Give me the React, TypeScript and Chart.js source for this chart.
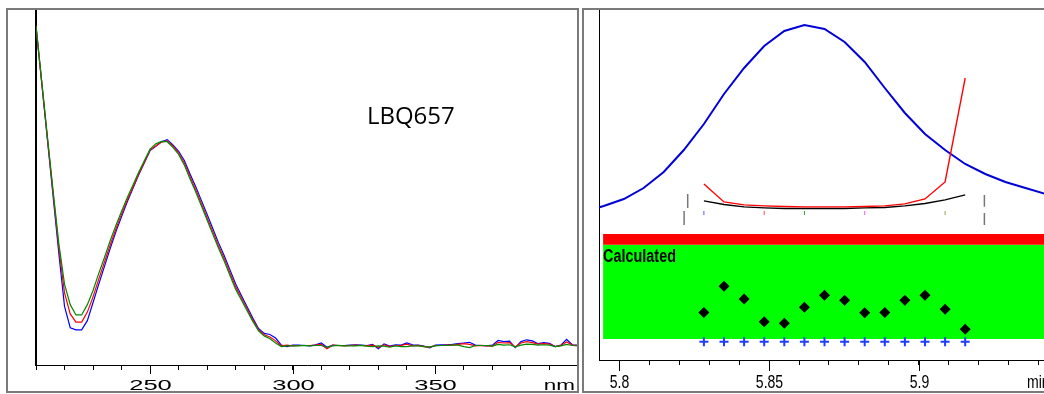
import React, { useEffect, useRef } from "react";
import { Chart, registerables } from "chart.js";

Chart.register(...registerables);

// ---------- Left panel: UV spectra ----------
const wavelengths = [
  210, 212, 214, 216, 218, 220, 222, 224, 226, 228, 230, 232, 234, 236, 238, 240, 242, 244, 246, 248,
  250, 252, 254, 256, 258, 260, 262, 264, 266, 268, 270, 272, 274, 276, 278, 280, 282, 284, 286, 288,
  290, 292, 294, 296, 298, 300, 302, 304, 306, 308, 310, 312, 314, 316, 318, 320, 322, 324, 326, 328,
  330, 332, 334, 336, 338, 340, 342, 344, 346, 348, 350, 352, 354, 356, 358, 360, 362, 364, 366, 368,
  370, 372, 374, 376, 378, 380, 382, 384, 386, 388, 390, 392, 394, 396, 398, 400,
];

const spectrumBlue = [
  95.5, 79.5, 63.5, 47.5, 31.5, 16.5, 10.5, 9.9, 9.9, 12.5, 17.6, 22.8, 27.8, 32.8, 37.5, 41.8, 46.0, 49.8, 53.6, 57.0,
  60.4, 61.6, 62.9, 63.5, 62.0, 60.2, 57.6, 53.8, 50.2, 46.3, 42.4, 38.4, 34.4, 30.8, 26.8, 22.8, 19.6, 16.4, 13.2, 10.3,
  8.9, 8.6, 7.6, 5.6, 5.2, 5.6,
  5.6, 5.5, 5.4, 5.7, 6.2, 5.0, 5.6, 5.5, 5.5, 5.6, 5.7, 5.6, 5.5, 5.8, 4.6, 5.9, 5.3, 5.7, 5.6, 6.2,
  5.7, 5.6, 5.3, 4.8, 5.6, 5.7, 5.7, 5.8, 6.0, 6.2, 6.4, 5.6, 5.5, 5.4, 5.6, 6.9, 6.6, 6.7, 4.9, 6.6,
  7.1, 6.8, 6.0, 6.3, 6.1, 5.2, 5.6, 7.2, 5.7, 5.5,
];

const spectrumRed = [
  95.5, 79.7, 63.9, 48.5, 33.0, 20.3, 14.4, 12.1, 12.1, 14.9, 19.2, 24.2, 29.0, 33.8, 38.3, 42.5, 46.5, 50.1, 53.8, 57.2,
  60.6, 61.7, 62.8, 63.1, 61.7, 59.7, 56.9, 53.0, 49.3, 45.4, 41.4, 37.5, 33.5, 29.9, 25.9, 22.0, 18.9, 15.8, 12.7, 9.9,
  8.5, 7.9, 6.8, 5.4, 5.6, 5.4,
  5.5, 5.5, 5.5, 5.6, 5.8, 4.6, 5.6, 5.5, 5.4, 5.5, 5.6, 5.5, 5.4, 5.6, 5.0, 5.7, 5.2, 5.5, 5.5, 5.9,
  5.4, 5.5, 5.2, 5.0, 5.5, 5.5, 5.6, 5.6, 5.8, 6.0, 5.8, 5.4, 5.5, 5.4, 5.3, 6.4, 6.2, 6.3, 5.1, 6.2,
  6.6, 6.3, 5.9, 6.0, 5.9, 5.2, 5.5, 6.5, 5.6, 5.5,
];

const spectrumGreen = [
  95.5, 79.9, 64.3, 49.0, 34.2, 22.8, 17.0, 14.1, 14.1, 17.0, 21.0, 25.8, 30.3, 35.0, 39.3, 43.3, 47.2, 50.7, 54.3, 57.6,
  60.8, 62.3, 63.0, 62.9, 61.3, 59.3, 56.3, 52.4, 48.7, 44.8, 40.8, 36.8, 32.9, 29.2, 25.2, 21.3, 18.3, 15.3, 12.3, 9.6,
  8.2, 7.4, 6.2, 5.2, 5.4, 5.4,
  5.4, 5.5, 5.4, 5.5, 5.5, 5.0, 5.4, 5.5, 5.4, 5.4, 5.4, 5.5, 5.3, 5.2, 5.4, 5.3, 5.0, 5.4, 5.2, 5.2,
  5.4, 5.4, 5.2, 5.1, 5.4, 5.5, 5.5, 5.6, 5.6, 5.2, 4.9, 5.5, 5.5, 5.5, 5.3, 5.8, 5.6, 5.7, 5.1, 5.6,
  5.9, 5.8, 5.6, 5.7, 5.6, 5.2, 5.4, 5.8, 5.5, 5.4,
];

const nmTickLabels = ["250", "300", "350"];
const nmUnit = "nm";
const sampleName = "LBQ657";

// ---------- Right panel: chromatographic peak purity ----------
const chromTimes = [
  5.7882, 5.7949, 5.8016, 5.8082, 5.8149, 5.8216, 5.8283, 5.835, 5.8417, 5.8484, 5.8551, 5.8618,
  5.8685, 5.8752, 5.8819, 5.8886, 5.8953, 5.902, 5.9087, 5.9154, 5.9221, 5.9288, 5.9355, 5.9422,
];
const chromSignal = [3, 9, 16, 27, 43, 65, 91, 121, 147, 169, 184, 190, 186, 173, 153, 127, 102, 81, 65, 51, 41, 33, 27, 21];

const sampleTimes = [
  5.8283, 5.835, 5.8417, 5.8484, 5.8551, 5.8618, 5.8685, 5.8752, 5.8819, 5.8886, 5.8953, 5.902, 5.9087, 5.9154,
];
const purityAngle = [12.8, 3.8, 2.3, 1.8, 1.5, 1.3, 1.3, 1.3, 1.5, 1.8, 2.8, 5.3, 13.8, 65.9];
const purityThreshold = [4.3, 2.5, 1.3, 0.8, 0.5, 0.5, 0.5, 0.5, 0.8, 1.0, 1.8, 3.0, 4.8, 7.3];
const matchScore = [13.6, 21.1, 17.4, 10.9, 10.5, 15.1, 18.5, 17.1, 13.5, 13.6, 17.1, 18.5, 14.5, 8.8];
const sampleMarkLevel = 5.2;

const boundaryTimes = [5.8229, 5.8217, 5.9218, 5.9218];
const boundaryTop = [7.8, -0.75, 7.3, -1.75];
const boundaryBottom = [0.75, -7.8, 1.4, -7.8];

const spectrumMarkTimes = [5.8283, 5.8484, 5.8618, 5.8819, 5.9087];
const spectrumMarkColors = ["#4a5cff", "#ff4a4a", "#2f9b2f", "#ff55ff", "#9c9c55"];
const spectrumMarkLevel = -1.75;

const bandStart = 5.7947;
const bandEnd = 5.95;
const failBand = [32.9, 36.0];
const passBand = [6.0, 32.9];
const bandLabel = "Calculated";

const timeTickLabels = ["5.8", "5.85", "5.9"];
const timeUnit = "min";

function drawText(
  ctx: CanvasRenderingContext2D,
  text: string,
  x: number,
  y: number,
  sx: number,
  align: CanvasTextAlign,
  font: string,
  color = "#000"
) {
  ctx.save();
  ctx.translate(x, y);
  ctx.scale(sx, 1);
  ctx.font = font;
  ctx.fillStyle = color;
  ctx.textAlign = align;
  ctx.textBaseline = "alphabetic";
  ctx.fillText(text, 0, 0);
  ctx.restore();
}

const leftLabels = {
  id: "leftLabels",
  afterDraw(chart: any) {
    const { ctx, chartArea, scales } = chart;
    const x = scales.x;
    const y = scales.y;
    ctx.save();
    ctx.strokeStyle = "#000";
    ctx.lineWidth = 1;
    nmTickLabels.forEach((lbl) => {
      const px = Math.round(x.getPixelForValue(Number(lbl))) + 0.5;
      ctx.beginPath();
      ctx.moveTo(px, chartArea.bottom);
      ctx.lineTo(px, chartArea.bottom + 9);
      ctx.stroke();
      drawText(ctx, lbl, px, chartArea.bottom + 25, 1.65, "center", '15.5px "Liberation Sans"');
    });
    drawText(ctx, nmUnit, chartArea.right - 3, chartArea.bottom + 25, 1.45, "right", '15.5px "Liberation Sans"');
    drawText(ctx, sampleName, x.getPixelForValue(326), y.getPixelForValue(68), 1, "left", '24px "Open Sans"');
    ctx.restore();
  },
};

const rightLabels = {
  id: "rightLabels",
  afterDraw(chart: any) {
    const { ctx, chartArea, scales } = chart;
    const x = scales.x;
    const yLow = scales.yLow;
    ctx.save();
    ctx.strokeStyle = "#000";
    ctx.lineWidth = 1;
    timeTickLabels.forEach((lbl) => {
      const px = Math.round(x.getPixelForValue(Number(lbl))) + 0.5;
      ctx.beginPath();
      ctx.moveTo(px, chartArea.bottom);
      ctx.lineTo(px, chartArea.bottom + 11);
      ctx.stroke();
      drawText(ctx, lbl, px, chartArea.bottom + 28, 0.78, "center", '18px "Liberation Sans"');
    });
    drawText(ctx, timeUnit, chartArea.right - 17, chartArea.bottom + 28, 0.78, "left", '18px "Liberation Sans"');
    drawText(
      ctx,
      bandLabel,
      x.getPixelForValue(bandStart),
      yLow.getPixelForValue(28.1),
      0.8,
      "left",
      'bold 18px "Liberation Sans"'
    );
    ctx.restore();
  },
};

export default function App() {
  const leftRef = useRef<HTMLCanvasElement>(null);
  const rightRef = useRef<HTMLCanvasElement>(null);

  useEffect(() => {
    const toXY = (xs: number[], ys: number[]) => xs.map((v, i) => ({ x: v, y: ys[i] }));

    const lineDs = (label: string, data: any[], color: string, order: number) => ({
      label,
      data,
      borderColor: color,
      backgroundColor: color,
      borderWidth: 1.2,
      pointRadius: 0,
      tension: 0,
      fill: false,
      order,
    });

    const left = new Chart(leftRef.current!, {
      type: "line",
      data: {
        datasets: [
          lineDs("Spectrum 3", toXY(wavelengths, spectrumGreen), "#008a00", 1),
          lineDs("Spectrum 2", toXY(wavelengths, spectrumRed), "#ff0000", 2),
          lineDs("Spectrum 1", toXY(wavelengths, spectrumBlue), "#0000ff", 3),
        ],
      },
      options: {
        animation: false,
        responsive: false,
        devicePixelRatio: 1,
        layout: { autoPadding: false, padding: { left: 36, top: 10, right: 1, bottom: 24 } },
        plugins: { legend: { display: false }, tooltip: { enabled: false } },
        scales: {
          x: {
            type: "linear",
            min: 210,
            max: 400,
            ticks: { stepSize: 10, display: false },
            grid: { display: true, drawOnChartArea: false, drawTicks: true, tickLength: 5, color: "#000", tickColor: "#000" },
            border: { display: true, color: "#000", width: 1 },
          },
          y: {
            min: 0,
            max: 100,
            ticks: { display: false },
            grid: { display: false, drawTicks: false },
            border: { display: true, color: "#000", width: 2 },
          },
        },
      } as any,
      plugins: [leftLabels],
    });

    const boundaryData: any[] = [];
    boundaryTimes.forEach((t, i) => {
      boundaryData.push({ x: t, y: boundaryTop[i] });
      boundaryData.push({ x: t, y: boundaryBottom[i] });
      boundaryData.push({ x: t, y: null });
    });

    const right = new Chart(rightRef.current!, {
      type: "line",
      data: {
        datasets: [
          {
            label: "Fail band",
            data: [
              { x: bandStart, y: failBand[1] },
              { x: bandEnd, y: failBand[1] },
            ],
            yAxisID: "yLow",
            borderWidth: 0,
            borderColor: "rgba(0,0,0,0)",
            backgroundColor: "#ff0000",
            pointRadius: 0,
            fill: { value: failBand[0] },
            order: 10,
          },
          {
            label: "Pass band",
            data: [
              { x: bandStart, y: passBand[1] },
              { x: bandEnd, y: passBand[1] },
            ],
            yAxisID: "yLow",
            borderWidth: 0,
            borderColor: "rgba(0,0,0,0)",
            backgroundColor: "#00ff00",
            pointRadius: 0,
            fill: { value: passBand[0] },
            order: 10,
          },
          {
            label: "Chromatogram",
            data: toXY(chromTimes, chromSignal),
            yAxisID: "yChrom",
            borderColor: "#0000d8",
            borderWidth: 2,
            pointRadius: 0,
            tension: 0,
            fill: false,
            order: 5,
          },
          {
            label: "Purity threshold",
            data: toXY(sampleTimes, purityThreshold),
            yAxisID: "yPur",
            borderColor: "#000",
            borderWidth: 1.4,
            pointRadius: 0,
            tension: 0,
            fill: false,
            order: 4,
          },
          {
            label: "Purity angle",
            data: toXY(sampleTimes, purityAngle),
            yAxisID: "yPur",
            borderColor: "#ff0000",
            borderWidth: 1.4,
            pointRadius: 0,
            tension: 0,
            fill: false,
            order: 3,
          },
          {
            label: "Peak bounds",
            data: boundaryData,
            yAxisID: "yPur",
            borderColor: "#777",
            borderWidth: 1.5,
            pointRadius: 0,
            spanGaps: false,
            fill: false,
            order: 6,
          },
          {
            label: "Spectra",
            data: spectrumMarkTimes.map((t) => ({ x: t, y: spectrumMarkLevel })),
            yAxisID: "yPur",
            showLine: false,
            pointStyle: "line",
            rotation: 90,
            pointRadius: 2,
            pointBorderWidth: 1,
            pointBorderColor: spectrumMarkColors,
            pointBackgroundColor: spectrumMarkColors,
            order: 6,
          },
          {
            label: "Match",
            data: toXY(sampleTimes, matchScore),
            yAxisID: "yLow",
            showLine: false,
            pointStyle: "rectRot",
            pointRadius: 5.5,
            pointBorderWidth: 0,
            pointBackgroundColor: "#000",
            pointBorderColor: "#000",
            order: 1,
          },
          {
            label: "Samples",
            data: sampleTimes.map((t) => ({ x: t, y: sampleMarkLevel })),
            yAxisID: "yLow",
            showLine: false,
            pointStyle: "cross",
            pointRadius: 4.5,
            pointBorderWidth: 2,
            pointBorderColor: "#1f3cff",
            pointBackgroundColor: "#1f3cff",
            order: 2,
          },
        ] as any,
      },
      options: {
        animation: false,
        responsive: false,
        devicePixelRatio: 1,
        layout: { autoPadding: false, padding: { left: 16, top: 10, right: 0, bottom: 29 } },
        plugins: { legend: { display: false }, tooltip: { enabled: false } },
        scales: {
          x: {
            type: "linear",
            min: 5.79333,
            max: 5.94167,
            ticks: { stepSize: 0.01, display: false, includeBounds: false },
            grid: { display: true, drawOnChartArea: false, drawTicks: true, tickLength: 5, color: "#000", tickColor: "#000" },
            border: { display: true, color: "#000", width: 1 },
          },
          yChrom: {
            position: "left",
            min: -145,
            max: 205,
            ticks: { display: false },
            grid: { display: false, drawTicks: false },
            border: { display: true, color: "#000", width: 1 },
          },
          yPur: { display: false, min: -75.44, max: 100 },
          yLow: { display: false, min: 0, max: 100 },
        },
      } as any,
      plugins: [rightLabels],
    });

    return () => {
      left.destroy();
      right.destroy();
    };
  }, []);

  return (
    <div
      style={{
        position: "fixed",
        left: 0,
        top: 0,
        width: 1044,
        height: 394,
        overflow: "hidden",
        background: "#fff",
      }}
    >
      <canvas ref={leftRef} width={579} height={394} style={{ position: "absolute", left: 0, top: 0 }} />
      <canvas ref={rightRef} width={461} height={394} style={{ position: "absolute", left: 583, top: 0 }} />
      <div
        style={{
          position: "absolute",
          left: 6,
          top: 8,
          width: 573,
          height: 385,
          border: "2px solid #7a7a7a",
          boxSizing: "border-box",
          pointerEvents: "none",
        }}
      />
      <div
        style={{
          position: "absolute",
          left: 582,
          top: 8,
          width: 600,
          height: 385,
          border: "2px solid #7a7a7a",
          boxSizing: "border-box",
          pointerEvents: "none",
        }}
      />
    </div>
  );
}
